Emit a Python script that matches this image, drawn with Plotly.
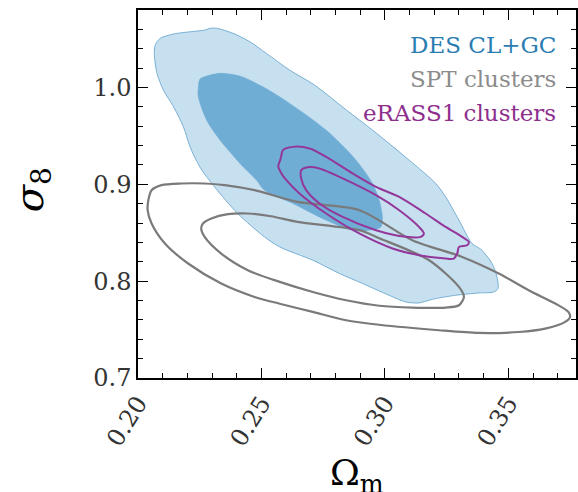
import plotly.graph_objects as go

# Confidence contours in the (Omega_m, sigma_8) plane
des_outer_om = [0.2066, 0.2070, 0.2090, 0.2144, 0.2211, 0.2271, 0.2292, 0.2319, 0.2385, 0.2453,
                0.2520, 0.2614, 0.2715, 0.2844, 0.2950, 0.3098, 0.3206, 0.3246, 0.3300, 0.3353,
                0.3388, 0.3434, 0.3454, 0.3458, 0.3441, 0.3380, 0.3286, 0.3206, 0.3179, 0.3138,
                0.3085, 0.3017, 0.2910, 0.2816, 0.2708, 0.2574, 0.2512, 0.2404, 0.2310, 0.2251,
                0.2211, 0.2184, 0.2144, 0.2103, 0.2077]
des_outer_s8 = [1.0351, 1.0437, 1.0506, 1.0551, 1.0574, 1.0592, 1.0610, 1.0610, 1.0558, 1.0471,
                1.0351, 1.0179, 1.0024, 0.9766, 0.9559, 0.9249, 0.9008, 0.8870, 0.8629, 0.8388,
                0.8330, 0.8182, 0.8043, 0.7924, 0.7888, 0.7878, 0.7854, 0.7820, 0.7803, 0.7775,
                0.7785, 0.7854, 0.7975, 0.8079, 0.8216, 0.8353, 0.8457, 0.8698, 0.8973, 0.9177,
                0.9386, 0.9593, 0.9800, 0.9972, 1.0145]

des_inner_om = [0.2244, 0.2251, 0.2278, 0.2332, 0.2413, 0.2506, 0.2614, 0.2762, 0.2883, 0.2950,
                0.2977, 0.2990, 0.2984, 0.2937, 0.2869, 0.2762, 0.2627, 0.2512, 0.2480, 0.2413,
                0.2332, 0.2278, 0.2244]
des_inner_s8 = [0.9993, 1.0086, 1.0117, 1.0145, 1.0117, 1.0006, 0.9835, 0.9559, 0.9249, 0.9008,
                0.8836, 0.8663, 0.8560, 0.8526, 0.8526, 0.8629, 0.8802, 0.8939, 0.9042, 0.9215,
                0.9456, 0.9662, 0.9903]

spt_outer_om = [0.2039, 0.2042, 0.2055, 0.2095, 0.2176, 0.2270, 0.2351, 0.2472, 0.2646, 0.2897,
                0.3111, 0.3313, 0.3461, 0.3582, 0.3690, 0.3743, 0.3750, 0.3730, 0.3649, 0.3542,
                0.3380, 0.3219, 0.2977, 0.2843, 0.2708, 0.2574, 0.2472, 0.2337, 0.2203, 0.2109,
                0.2055]
spt_outer_s8 = [0.8732, 0.8836, 0.8939, 0.8991, 0.9008, 0.9008, 0.8991, 0.8939, 0.8818, 0.8732,
                0.8423, 0.8250, 0.8079, 0.7906, 0.7769, 0.7682, 0.7630, 0.7579, 0.7510, 0.7475,
                0.7465, 0.7493, 0.7550, 0.7596, 0.7682, 0.7767, 0.7837, 0.7975, 0.8182, 0.8388,
                0.8595]

spt_inner_om = [0.2256, 0.2263, 0.2297, 0.2364, 0.2445, 0.2539, 0.2646, 0.2896, 0.2977, 0.3179,
                0.3300, 0.3320, 0.3300, 0.3246, 0.3111, 0.2977, 0.2843, 0.2708, 0.2574, 0.2445,
                0.2337, 0.2270]
spt_inner_s8 = [0.8543, 0.8595, 0.8647, 0.8691, 0.8698, 0.8670, 0.8612, 0.8526, 0.8443, 0.8216,
                0.7940, 0.7837, 0.7751, 0.7727, 0.7727, 0.7746, 0.7803, 0.7888, 0.7992, 0.8113,
                0.8285, 0.8457]

erass_outer_om = [0.2581, 0.2587, 0.2627, 0.2695, 0.2762, 0.2869, 0.2964, 0.3058, 0.3165, 0.3246,
                  0.3313, 0.3340, 0.3333, 0.3300, 0.3293, 0.3279, 0.3246, 0.3138, 0.3031, 0.2896,
                  0.2762, 0.2654, 0.2601, 0.2581, 0.2568, 0.2576]
erass_outer_s8 = [0.9301, 0.9352, 0.9386, 0.9370, 0.9283, 0.9112, 0.8973, 0.8870, 0.8698, 0.8560,
                  0.8457, 0.8405, 0.8371, 0.8353, 0.8285, 0.8233, 0.8233, 0.8268, 0.8337, 0.8492,
                  0.8698, 0.8905, 0.9042, 0.9112, 0.9187, 0.9249]

erass_inner_om = [0.2661, 0.2681, 0.2735, 0.2829, 0.2964, 0.3058, 0.3138, 0.3158, 0.3145, 0.3085,
                  0.2964, 0.2829, 0.2735, 0.2681, 0.2661]
erass_inner_s8 = [0.9146, 0.9174, 0.9163, 0.9060, 0.8887, 0.8732, 0.8560, 0.8492, 0.8457, 0.8457,
                  0.8526, 0.8663, 0.8802, 0.8939, 0.9060]

legend_labels = ["DES CL+GC", "SPT clusters", "eRASS1 clusters"]
legend_colors = ["#2a7db3", "#8c8c8c", "#8e2f8e"]

x_ticks = [0.20, 0.25, 0.30, 0.35]
y_ticks = [0.7, 0.8, 0.9, 1.0]

SERIF = "DejaVu Serif"


def closed(a):
    return list(a) + [a[0]]


fig = go.Figure()

fig.add_trace(go.Scatter(
    x=closed(des_outer_om), y=closed(des_outer_s8), mode="lines",
    line=dict(color="rgb(120,176,212)", width=1, shape="spline", smoothing=0.8),
    fill="toself", fillcolor="rgb(199,224,240)", hoverinfo="skip"))
fig.add_trace(go.Scatter(
    x=closed(des_inner_om), y=closed(des_inner_s8), mode="lines",
    line=dict(color="rgb(110,172,212)", width=0.5, shape="spline", smoothing=0.8),
    fill="toself", fillcolor="rgb(112,173,213)", hoverinfo="skip"))

for om, s8 in [(spt_outer_om, spt_outer_s8), (spt_inner_om, spt_inner_s8)]:
    fig.add_trace(go.Scatter(
        x=closed(om), y=closed(s8), mode="lines",
        line=dict(color="#7a7a7a", width=2.2, shape="spline", smoothing=0.8),
        hoverinfo="skip"))

for om, s8 in [(erass_outer_om, erass_outer_s8), (erass_inner_om, erass_inner_s8)]:
    fig.add_trace(go.Scatter(
        x=closed(om), y=closed(s8), mode="lines",
        line=dict(color="#93379a", width=2.0, shape="spline", smoothing=0.8),
        hoverinfo="skip"))

# Text legend in the upper-right corner
for i, (lab, col) in enumerate(zip(legend_labels, legend_colors)):
    fig.add_annotation(
        text=lab, xref="paper", yref="paper", x=0.959, y=0.905 - i * 0.092,
        xanchor="right", yanchor="middle", showarrow=False,
        font=dict(family=SERIF, size=23, color=col))

# Axis titles
fig.add_annotation(
    text="Ω<sub>m</sub>", xref="paper", yref="paper", x=0.5, y=0, yshift=-72,
    xanchor="center", yanchor="top", showarrow=False,
    font=dict(family=SERIF, size=36, color="black"))
fig.add_annotation(
    text="<i>σ</i><sub>8</sub>", xref="paper", yref="paper", x=0, xshift=-106, y=0.51,
    xanchor="center", yanchor="middle", textangle=-90, showarrow=False,
    font=dict(family=SERIF, size=40, color="black"))

axis_common = dict(
    showline=True, linecolor="black", linewidth=1.5, mirror="ticks",
    ticks="inside", ticklen=10, tickwidth=1.3, tickcolor="black",
    showgrid=False, zeroline=False,
    tickfont=dict(family=SERIF, size=24, color="#333333"),
)

fig.update_xaxes(
    range=[0.20, 0.3774], tickvals=x_ticks, ticktext=[f"{v:.2f}" for v in x_ticks],
    tickangle=-58,
    minor=dict(ticks="inside", ticklen=5, tickwidth=1.2, tickcolor="black", dtick=0.01, tick0=0.2),
    **axis_common)
fig.update_yaxes(
    range=[0.7, 1.0799], tickvals=y_ticks, ticktext=[f"{v:.1f}" for v in y_ticks],
    minor=dict(ticks="inside", ticklen=5, tickwidth=1.2, tickcolor="black", dtick=0.02, tick0=0.7),
    **axis_common)

fig.update_layout(
    width=578, height=492,
    margin=dict(l=138, r=0, t=10, b=114),
    plot_bgcolor="white", paper_bgcolor="white",
    showlegend=False,
)

fig.write_html("out.html")
